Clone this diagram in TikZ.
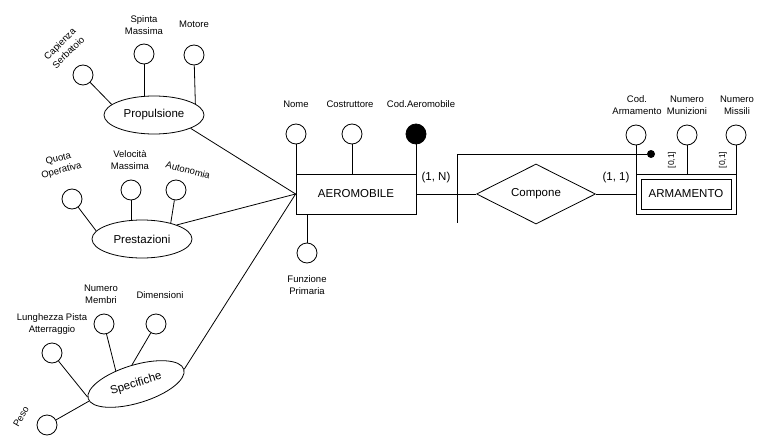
\documentclass[tikz,border=0pt]{standalone}
\usepackage{fontspec}
\setmainfont{Liberation Sans}
\usetikzlibrary{shapes.geometric}

\begin{document}
\begin{tikzpicture}[x=1pt, y=-1pt, line width=0.8pt,
    attr/.style={circle, draw, minimum size=20pt, inner sep=0pt},
    keyattr/.style={attr, fill=black},
    iddot/.style={circle, fill=black, inner sep=0pt, minimum size=8pt},
    entity/.style={draw, minimum width=120pt, minimum height=40pt, font=\fontsize{11.5}{14}\selectfont},
    weakentity/.style={draw, minimum width=90pt, minimum height=30pt, outer sep=5pt, font=\fontsize{11.5}{14}\selectfont},
    relation/.style={diamond, draw, aspect=2, minimum width=119pt, minimum height=60pt, inner sep=0pt, font=\fontsize{11.5}{14}\selectfont},
    group/.style={ellipse, draw, minimum width=100pt, minimum height=38pt, inner sep=0pt, font=\fontsize{11.5}{14}\selectfont},
    attrlabel/.style={font=\fontsize{9.5}{12}\selectfont, align=center, inner sep=0pt},
    card/.style={font=\fontsize{11.5}{14}\selectfont},
    bound/.style={font=\fontsize{8.5}{10}\selectfont, inner sep=0pt}]
  \useasboundingbox (0,0) rectangle (757,441);

  \node[entity] (aero) at (356,194) {AEROMOBILE};
  \node[relation] (comp) at (536,194) {Compone};
  \node[weakentity] (arm) at (686,194) {ARMAMENTO};
  \draw (arm.north west) rectangle (arm.south east);
  \node[card] (cardaero) at (436,178) {(1, N)};
  \node[card] (cardarm) at (616,178) {(1, 1)};

  \node[attr] (nome) at (296,134) {};
  \node[attr] (costr) at (352,134) {};
  \node[keyattr] (codaero) at (416,134) {};
  \node[attr] (funz) at (307,253) {};
  \node[attrlabel] (lnome) at (296,104) {Nome};
  \node[attrlabel] (lcostr) at (350,104) {Costruttore};
  \node[attrlabel] (lcodaero) at (421,104) {Cod.Aeromobile};
  \node[attrlabel] (lfunz) at (307,285) {Funzione\\Primaria};

  \node[attr] (codarm) at (636,135) {};
  \node[attr] (nummun) at (687,135) {};
  \node[attr] (nummis) at (736,135) {};
  \node[attrlabel] (lcodarm) at (637,105) {Cod.\\Armamento};
  \node[attrlabel] (lnummun) at (687,105) {Numero\\Munizioni};
  \node[attrlabel] (lnummis) at (737,105) {Numero\\Missili};
  \node[iddot] (extdot) at (651,154) {};
  \coordinate (extid) at (457,223);
  \node[bound, rotate=90] (bmun) at (672,160) {[0,1]};
  \node[bound, rotate=90] (bmis) at (723,160) {[0,1]};

  \node[group] (prop) at (154,115) {Propulsione};
  \node[attr] (capac) at (83,75) {};
  \node[attr] (spinta) at (144,54) {};
  \node[attr] (motore) at (194,55) {};
  \node[attrlabel, rotate=45] (lcapac) at (64,48) {Capienza\\Serbatoio};
  \node[attrlabel] (lspinta) at (144,25) {Spinta\\Massima};
  \node[attrlabel] (lmotore) at (194,24) {Motore};

  \node[group] (prest) at (142,239) {Prestazioni};
  \node[attr] (quota) at (72,199) {};
  \node[attr] (veloc) at (131,190) {};
  \node[attr] (auton) at (176,190) {};
  \node[attrlabel, rotate=15] (lquota) at (60,165) {Quota\\Operativa};
  \node[attrlabel] (lveloc) at (130,160) {Velocità\\Massima};
  \node[attrlabel, rotate=-15] (lauton) at (188,170) {Autonomia};

  \node[group, rotate=17] (spec) at (136,384) {Specifiche};
  \node[attr] (lungh) at (52,353) {};
  \node[attr] (membri) at (104,324) {};
  \node[attr] (dimens) at (156,324) {};
  \node[attr] (peso) at (47,425) {};
  \node[attrlabel] (llungh) at (52,324) {Lunghezza Pista\\Atterraggio};
  \node[attrlabel] (lmembri) at (101,294) {Numero\\Membri};
  \node[attrlabel] (ldimens) at (160,295) {Dimensioni};
  \node[attrlabel, rotate=60] (lpeso) at (21,417) {Peso};

  \draw (nome) -- (nome |- aero.north);
  \draw (costr) -- (costr |- aero.north);
  \draw (codaero) -- (codaero |- aero.north);
  \draw (funz) -- (funz |- aero.south);
  \draw (aero) -- (comp);
  \draw (comp) -- (arm);
  \draw (codarm) -- (codarm |- arm.north);
  \draw (nummun) -- (nummun |- arm.north);
  \draw (nummis) -- (nummis |- arm.north);
  \draw (extdot) -| (extid);

  \draw (capac) -- (prop.166);
  \draw (spinta) -- (spinta |- prop.north);
  \draw (motore) -- (prop.15);
  \draw (prop.-20) -- (aero.west);
  \draw (quota) -- (prest.170);
  \draw (veloc) -- (veloc |- prest.north);
  \draw (auton) -- (prest.29);
  \draw (prest.22) -- (aero.west);
  \draw (lungh) -- (spec.178);
  \draw (membri) -- (spec.130);
  \draw (dimens) -- (spec.85);
  \draw (peso) -- (spec.183);
  \draw (spec.east) -- (aero.west);
\end{tikzpicture}
\end{document}
